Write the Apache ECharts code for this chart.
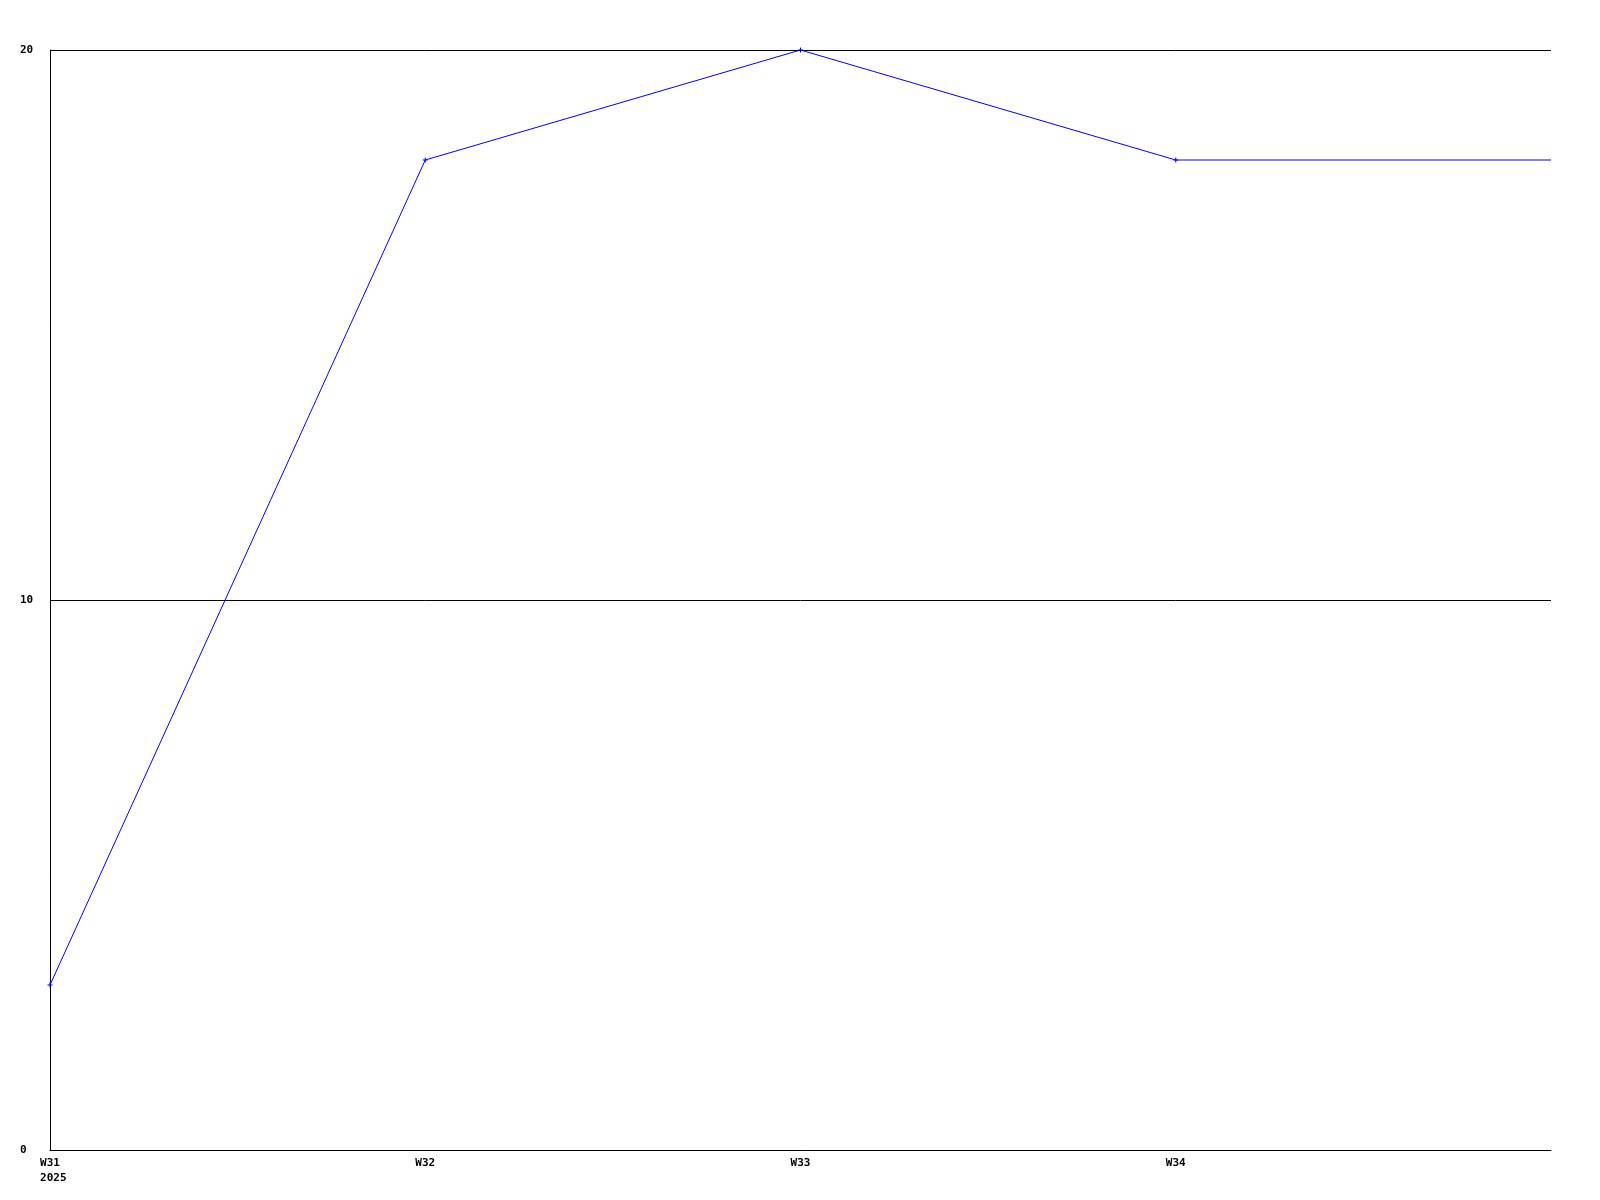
<!DOCTYPE html>
<html><head><meta charset="utf-8">
<script src="https://cdn.jsdelivr.net/npm/echarts@6/dist/echarts.min.js"></script>
<style>html,body{margin:0;padding:0;background:#fff}#c{width:1600px;height:1200px}</style>
</head><body><div id="c"></div>
<script>
var categories = ['W31', 'W32', 'W33', 'W34', 'W35'];
var yearLabel = '2025';
var values = [3, 18, 20, 18, 18];
var yTicks = [0, 10, 20];

var chart = echarts.init(document.getElementById('c'), null, {renderer: 'canvas'});
var font = {fontFamily: 'DejaVu Sans Mono', fontWeight: 'bold', fontSize: 11, color: '#000'};
chart.setOption({
  animation: false,
  backgroundColor: '#fff',
  grid: {left: 50, right: 49, top: 50, bottom: 50, containLabel: false},
  xAxis: {
    type: 'category', boundaryGap: false, data: categories,
    axisLine: {lineStyle: {color: '#000', width: 1}},
    axisTick: {show: false},
    splitLine: {show: false},
    axisLabel: Object.assign({}, font, {
      margin: 6, lineHeight: 15, interval: 0, align: 'center', verticalAlign: 'top',
      formatter: function (v, i) {
        if (i === categories.length - 1) return '';
        return i === 0 ? v + '\n ' + yearLabel : v;
      }
    })
  },
  yAxis: {
    type: 'value', min: yTicks[0], max: yTicks[yTicks.length - 1], interval: 10,
    axisLine: {show: true, lineStyle: {color: '#000', width: 1}},
    axisTick: {show: false},
    splitLine: {show: true, lineStyle: {color: '#000', width: 1}},
    axisLabel: Object.assign({}, font, {margin: 30, align: 'left'})
  },
  series: [{
    type: 'line',
    data: values.map(function (v, i) {
      return i === values.length - 1 ? {value: v, symbol: 'none'} : v;
    }),
    symbol: 'path://M2,0 L3,0 L3,2 L5,2 L5,3 L3,3 L3,5 L2,5 L2,3 L0,3 L0,2 L2,2 Z',
    symbolSize: 5,
    showSymbol: true,
    itemStyle: {color: '#0000ff'},
    lineStyle: {color: '#0000ff', width: 1},
    clip: false
  }]
});
</script></body></html>
